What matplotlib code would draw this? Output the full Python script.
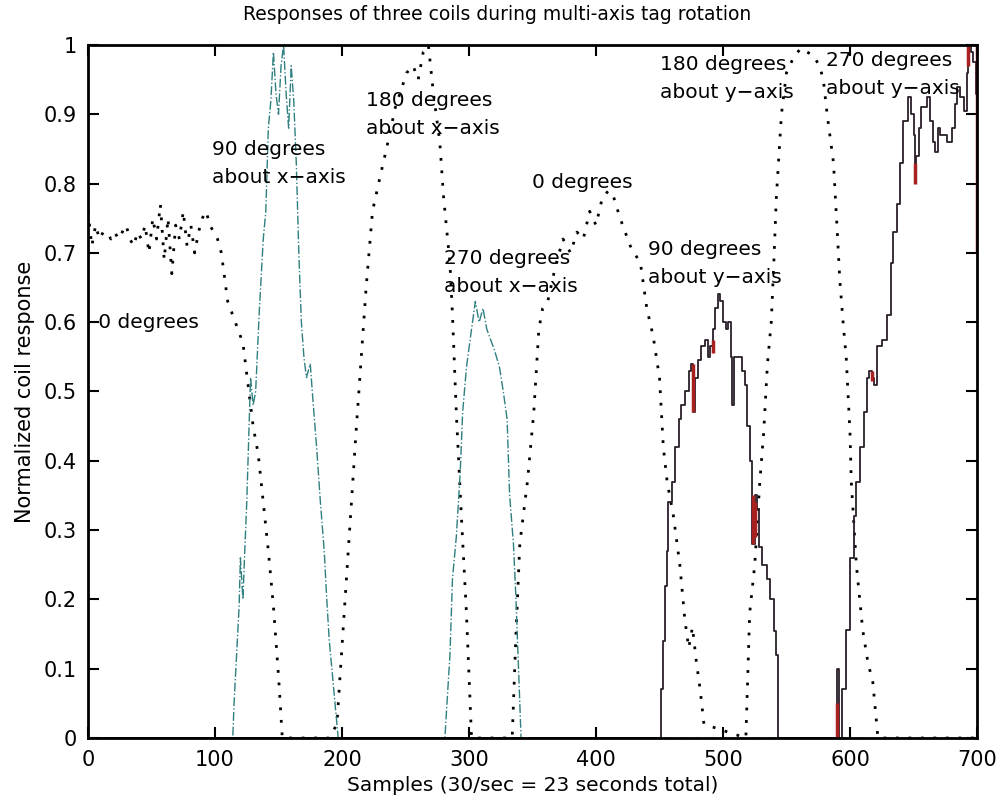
import numpy as np
import matplotlib
matplotlib.use("Agg")
import matplotlib.pyplot as plt

# <-- data -->
# coil 1 (dotted)
c1_x = [0, 3, 6, 9, 12, 15, 18, 21, 24, 27, 30, 33, 36, 39, 42, 45, 48, 51, 54,
        57, 60, 63, 66, 69, 72, 75, 78, 81, 84, 87, 90, 93, 96, 99, 102,
        105, 110, 116, 122, 126, 130, 134, 138, 142, 146, 150, 153,
        190, 196, 201, 206, 211, 216, 219, 224, 230, 235, 242, 251, 256, 260,
        264, 268, 272, 277, 280, 285, 287, 290, 294, 298, 302,
        334, 337, 340, 346, 351, 355, 358, 362, 368, 374, 380, 385, 390, 395,
        400, 405, 410, 414, 419, 427, 435, 440, 445, 450, 453, 456, 461, 466,
        470, 473, 476, 479, 482, 485,
        518, 521, 525, 529, 532, 535, 538, 540, 542, 546, 550, 555, 561, 566,
        571, 576, 579, 582, 587, 590, 592, 595, 597, 600, 601, 605, 610, 614,
        618, 622, 700]
c1_y = [0.76, 0.71, 0.74, 0.72, 0.73, 0.73, 0.72, 0.73, 0.72, 0.73, 0.74, 0.72,
        0.71, 0.73, 0.72, 0.74, 0.70, 0.75, 0.72, 0.77, 0.69, 0.75, 0.67, 0.74,
        0.72, 0.76, 0.71, 0.74, 0.70, 0.73, 0.75, 0.76, 0.74, 0.73, 0.72,
        0.70, 0.63, 0.60, 0.57, 0.51, 0.45, 0.41, 0.34, 0.27, 0.19, 0.09, 0.0,
        0.0, 0.02, 0.16, 0.30, 0.44, 0.57, 0.65, 0.76, 0.81, 0.85, 0.91, 0.96,
        0.97, 0.95, 0.99, 1.0, 0.93, 0.86, 0.78, 0.685, 0.61, 0.47, 0.32, 0.18,
        0.0,
        0.0, 0.15, 0.28, 0.37, 0.47, 0.59, 0.62, 0.63, 0.68, 0.72, 0.70, 0.73,
        0.72, 0.76, 0.74, 0.78, 0.79, 0.78, 0.75, 0.71, 0.685, 0.62, 0.58, 0.52,
        0.42, 0.37, 0.32, 0.25, 0.17, 0.13, 0.16, 0.11, 0.07, 0.02,
        0.0, 0.18, 0.25, 0.37, 0.44, 0.54, 0.60, 0.685, 0.78, 0.90, 0.96, 0.98,
        0.995, 0.99, 0.985, 0.97, 0.95, 0.90, 0.83, 0.73, 0.66, 0.59, 0.55, 0.44,
        0.37, 0.25, 0.156, 0.11, 0.08, 0.0, 0.0]

# coil 2 (dash-dot)
c2_x = [0, 114, 115, 117, 119, 120, 122, 123, 125, 127, 128, 130, 132, 135, 138,
        140, 142, 144, 146, 148, 150, 152, 154, 156, 158, 160, 162, 164, 166,
        168, 170, 172, 175, 177, 180, 183, 186, 188, 190, 193, 197,
        281, 283, 285, 287, 290, 293, 295, 298, 302, 305, 308, 311, 314, 317,
        320, 324, 327, 330, 332, 335, 337, 339, 341, 700]
c2_y = [0.0, 0.0, 0.05, 0.12, 0.19, 0.26, 0.20, 0.25, 0.34, 0.46, 0.52, 0.48,
        0.50, 0.62, 0.72, 0.76, 0.88, 0.92, 0.99, 0.93, 0.90, 0.97, 1.0, 0.93,
        0.88, 0.97, 0.92, 0.83, 0.70, 0.60, 0.55, 0.52, 0.54, 0.49, 0.42, 0.34,
        0.27, 0.20, 0.14, 0.08, 0.0,
        0.0, 0.06, 0.12, 0.23, 0.29, 0.38, 0.47, 0.535, 0.59, 0.63, 0.60, 0.62,
        0.59, 0.575, 0.56, 0.535, 0.50, 0.46, 0.35, 0.28, 0.20, 0.10, 0.0, 0.0]

# coil 3 (solid)
c3_x = [0, 450, 451, 453, 454, 456, 457, 460, 462, 465, 467, 470, 473, 475, 476,
        478, 480, 483, 486, 488, 490, 492, 494, 496, 498, 500, 502, 504, 506,
        507, 509, 512, 515, 517, 519, 521, 523, 525, 527, 528, 531, 535, 537,
        540, 542, 543, 589, 590, 591, 593, 594, 597, 600, 603, 605, 608, 611,
        613, 615, 617, 619, 621, 625, 629, 632, 634, 637, 639, 642, 646, 648,
        650, 651, 652, 654, 656, 661, 663, 665, 667, 669, 671, 673, 676, 680,
        683, 684, 687, 690, 692, 693, 695, 697, 699, 700]
c3_y = [0.0, 0.0, 0.07, 0.14, 0.22, 0.27, 0.34, 0.37, 0.42, 0.46, 0.48, 0.50,
        0.53, 0.54, 0.47, 0.52, 0.545, 0.565, 0.575, 0.55, 0.565, 0.59, 0.62,
        0.64, 0.63, 0.60, 0.59, 0.60, 0.55, 0.48, 0.55, 0.55, 0.53, 0.51, 0.45,
        0.40, 0.28, 0.35, 0.33, 0.275, 0.25, 0.23, 0.20, 0.155, 0.12, 0.0, 0.0,
        0.10, 0.0, 0.0, 0.07, 0.156, 0.26, 0.32, 0.37, 0.42, 0.47, 0.52, 0.53,
        0.52, 0.51, 0.565, 0.575, 0.61, 0.685, 0.73, 0.77, 0.83, 0.89, 0.925,
        0.90, 0.87, 0.81, 0.84, 0.88, 0.91, 0.925, 0.89, 0.86, 0.845, 0.88, 0.87,
        0.87, 0.86, 0.88, 0.915, 0.94, 0.925, 0.905, 0.96, 1.0, 0.99, 0.975,
        0.93, 0.71]

# red marks on coil 3
red_x = [476, 492, 524, 525, 590, 617, 651, 693, 700]
red_lo = [0.47, 0.555, 0.28, 0.29, 0.0, 0.515, 0.80, 0.97, 0.70]
red_hi = [0.54, 0.575, 0.35, 0.34, 0.05, 0.53, 0.83, 1.0, 1.0]

# annotations: (text, x, y)
notes = [
    ("-0 degrees", 2, 0.60),
    ("90 degrees\nabout x\u2212axis", 98, 0.829),
    ("180 degrees\nabout x\u2212axis", 219, 0.899),
    ("270 degrees\nabout x\u2212axis", 280, 0.671),
    ("0 degrees", 350, 0.802),
    ("90 degrees\nabout y\u2212axis", 441, 0.684),
    ("180 degrees\nabout y\u2212axis", 450, 0.952),
    ("270 degrees\nabout y\u2212axis", 581, 0.958),
]

plt.rcParams['font.family'] = ['DejaVu Sans']

fig = plt.figure(figsize=(10, 7.98), dpi=100)
ax = fig.add_axes([0.088, 0.0752, 0.889, 0.8684])

ax.plot(c1_x, c1_y, color="black", lw=2.0, linestyle=(0, (1, 3.5)))
ax.plot(c2_x, c2_y, color="#2f7f80", lw=1.0, linestyle="-.")
ax.plot(c3_x, c3_y, color="#2a1f2a", lw=1.3, drawstyle="steps-post")
ax.vlines(red_x, red_lo, red_hi, color="#a82020", lw=2.5)

for txt, x, y in notes:
    ax.text(x, y, txt, fontsize=14.5, ha="left", va="center", linespacing=1.6)

ax.set_xlim(0, 700)
ax.set_ylim(0, 1)
ax.set_xticks(np.arange(0, 701, 100))
ax.set_yticks(np.arange(0, 1.01, 0.1))
ax.set_yticklabels(["0", "0.1", "0.2", "0.3", "0.4", "0.5", "0.6", "0.7",
                    "0.8", "0.9", "1"])
ax.tick_params(direction="in", length=8, width=1.5, labelsize=15,
               top=True, right=True)
ax.tick_params(axis="x", pad=9)
ax.tick_params(axis="y", pad=8)
for s in ax.spines.values():
    s.set_linewidth(2)

fig.text(0.497, 0.982, "Responses of three coils during multi-axis tag rotation",
         fontsize=13.5, ha="center", va="center")
ax.set_xlabel("Samples (30/sec = 23 seconds total)", fontsize=14.5, labelpad=4)
ax.set_ylabel("Normalized coil response", fontsize=15, labelpad=6)

fig.savefig("out.png", dpi=100)
